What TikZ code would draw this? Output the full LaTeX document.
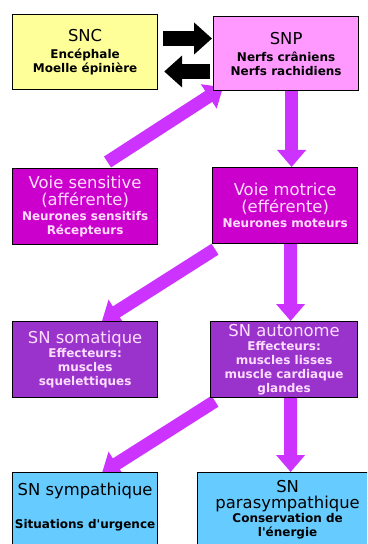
\documentclass[tikz,border=0pt]{standalone}
\usepackage{fontspec}
\setmainfont{DejaVu Sans}
\usetikzlibrary{arrows.meta,calc}
\definecolor{sncfill}{HTML}{FFFF99}
\definecolor{snpfill}{HTML}{FF99FF}
\definecolor{voiefill}{HTML}{CC00CC}
\definecolor{snfill}{HTML}{9933CC}
\definecolor{bluefill}{HTML}{66CCFF}
\definecolor{arrowc}{HTML}{CC33FF}
\definecolor{lighttext}{HTML}{FFDDFF}
\pgfdeclarelayer{bg}
\pgfsetlayers{bg,main}
\newcommand{\ttlfont}{\fontsize{16.4bp}{17bp}\selectfont\mdseries}
\newcommand{\sbtfont}{\fontsize{12bp}{14bp}\selectfont\bfseries}
\newcommand{\apos}{\XeTeXglyph\XeTeXglyphindex "quotesingle"\relax}
\begin{document}
\begin{tikzpicture}[x=1bp,y=-1bp,
  box/.style={draw=black, line width=1.2bp, rectangle, inner sep=0pt,
              anchor=north west, align=center, font=\sbtfont},
  bigarrow/.style={draw=arrowc, line width=13bp, -{Triangle[width=28bp,length=17bp]}},
  blackarrow/.style={draw=black, line width=15bp, -{Triangle[width=31bp,length=18bp]}}]
\useasboundingbox (0,0) rectangle (367,544);
\begin{pgfonlayer}{bg}
\fill[white] (0,0) rectangle (367,544);
\end{pgfonlayer}
\begin{scope}
\clip (0,0) rectangle (367,544);
\node[box, fill=sncfill, minimum width=145bp, minimum height=75bp] (snc) at (12,14)
  {{\ttlfont SNC}\\[3bp]Encéphale\\Moelle épinière};
\node[box, fill=snpfill, minimum width=145bp, minimum height=74bp] (snp) at (213,16)
  {{\ttlfont SNP}\\[3bp]Nerfs crâniens\\Nerfs rachidiens};
\node[box, fill=voiefill, text=lighttext, minimum width=145bp, minimum height=76bp] (vs) at (12,168)
  {{\ttlfont Voie sensitive}\\[3bp]{\ttlfont (afférente)}\\[1bp]Neurones sensitifs\\Récepteurs};
\node[box, fill=voiefill, text=lighttext, minimum width=145bp, minimum height=76bp] (vm) at (212,167)
  {{\ttlfont Voie motrice}\\[3bp]{\ttlfont (efférente)}\\[1bp]Neurones moteurs};
\node[box, fill=snfill, text=lighttext, minimum width=145bp, minimum height=76bp] (som) at (12,321)
  {{\ttlfont SN somatique}\\Effecteurs:\\muscles\\squelettiques};
\node[box, fill=snfill, text=lighttext, minimum width=147bp, minimum height=76bp] (aut) at (210,321)
  {{\ttlfont SN autonome}\\Effecteurs:\\muscles lisses\\muscle cardiaque\\glandes};
\node[box, fill=bluefill, align=left] (symp) at (12,472)
  {\parbox[c][80bp][t]{145bp}{\centering\vspace*{10.5bp}{\ttlfont SN sympathique}\\[19bp]Situations d\apos urgence}};
\node[box, fill=bluefill, align=left] (para) at (197,472)
  {\parbox[c][80bp][t]{180bp}{\centering\vspace*{8bp}{\ttlfont SN}\\[2bp]{\ttlfont parasympathique}\\Conservation de\\l\apos énergie}};
\end{scope}
\coordinate (ra) at (0,38.5);
\coordinate (la) at (0,71.5);
\begin{pgfonlayer}{bg}
\draw[blackarrow] ($(snc.east |- ra)+(5,0)$) -- ($(snp.west |- ra)+(-1,0)$);
\draw[blackarrow] ($(snp.west |- la)+(-3,0)$) -- ($(snc.east |- la)+(6,0)$);
\draw[bigarrow] ($(vs.north west)+(95.5,-6)$) -- ($(snp.south west)+(10,-4)$);
\draw[bigarrow] ($(snp.south)+(5.5,0)$) -- ($(vm.north)+(6.5,0)$);
\draw[bigarrow] ($(vm.south west)+(3,5)$) -- ($(som.north west)+(90,0)$);
\draw[bigarrow] ($(vm.south)+(5.5,0)$) -- ($(aut.north)+(6.5,0)$);
\draw[bigarrow] ($(aut.south west)+(5,3)$) -- ($(symp.north west)+(90,1)$);
\draw[bigarrow] ($(aut.south)+(6.5,0)$) -- ($(para.north)+(3,0)$);
\end{pgfonlayer}
\end{tikzpicture}
\end{document}
